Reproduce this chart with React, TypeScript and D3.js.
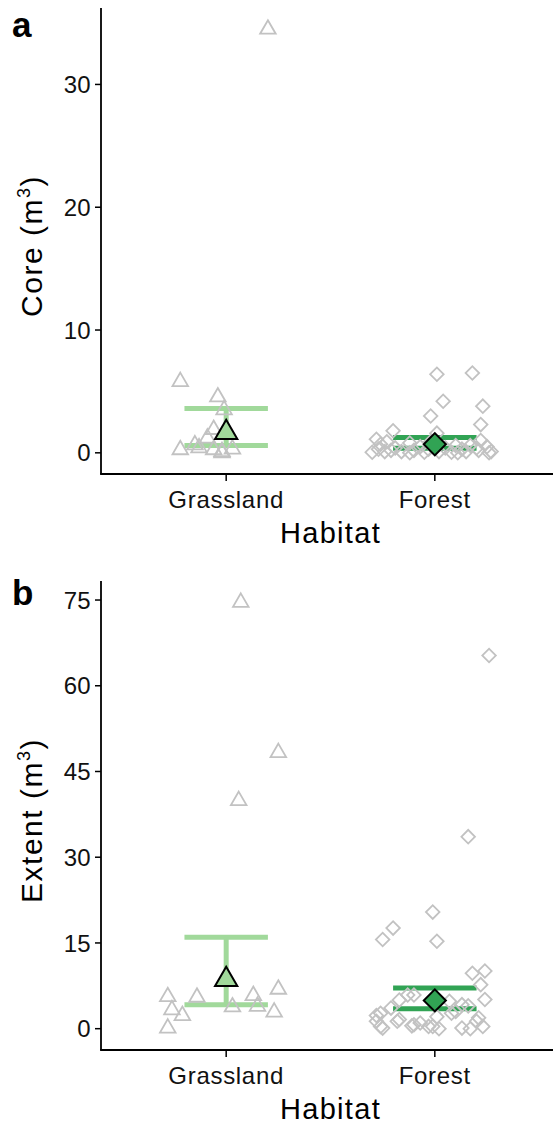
import React, { useEffect, useRef } from "react";
import * as d3 from "d3";

const habitats = ["Grassland", "Forest"];

// panel a: core volume (m3)
const coreGrassland = [34.5, 5.8, 4.55, 3.5, 1.9, 1.2, 0.65, 0.4, 0.25, 0.25, 0.1, 0.0, 0.3];
const coreGrasslandJitter = [0.2, -0.22, -0.04, -0.01, -0.06, -0.09, -0.15, -0.13, -0.22, -0.06, -0.02, -0.02, 0.03];
const coreForest = [
  6.5, 6.4, 4.2, 3.8, 3.0, 2.3, 1.8, 1.6, 1.1, 1.0, 0.9, 0.8, 0.7, 0.6, 0.6, 0.5, 0.5, 0.4, 0.4,
  0.3, 0.3, 0.3, 0.2, 0.2, 0.2, 0.1, 0.1, 0.1, 0.1, 0.1, 0.05, 0.05, 0.05, 0.0, 0.0, 0.0, 0.9, 0.4,
];
const coreForestJitter = [
  0.18, 0.01, 0.04, 0.23, -0.02, 0.22, -0.2, 0.01, -0.28, 0.22, -0.23, -0.12, -0.26, 0.1, 0.17, -0.07, 0.25, -0.19, 0.05,
  -0.27, -0.03, 0.13, -0.21, -0.1, 0.21, -0.24, -0.16, 0.02, 0.15, 0.27, -0.3, -0.05, 0.08, -0.12, 0.11, 0.26, -0.02, 0.2,
];
const coreMean = [1.64, 0.7];
const coreLower = [0.6, 0.38];
const coreUpper = [3.6, 1.24];

// panel b: extent volume (m3)
const extentGrassland = [74.6, 48.3, 39.9, 5.6, 3.3, 2.3, 0.1, 5.5, 3.8, 5.8, 3.9, 6.9, 2.9];
const extentGrasslandJitter = [0.07, 0.25, 0.06, -0.28, -0.26, -0.21, -0.28, -0.14, 0.03, 0.13, 0.15, 0.25, 0.23];
const extentForest = [
  65.3, 33.6, 20.4, 17.6, 15.6, 15.3, 10.1, 9.7, 7.7, 5.9, 5.1, 5.0, 5.9, 4.8, 4.2, 4.0, 3.6, 2.7, 2.3,
  2.1, 1.9, 1.6, 0.7, 1.0, 0.4, 0.4, 0.1, 0.0, 0.4, 0.0, 2.7, 1.3, 0.1, 1.3, 3.0, 1.3, 0.5, 0.4,
];
const extentForestJitter = [
  0.26, 0.16, -0.01, -0.2, -0.25, 0.01, 0.24, 0.18, 0.22, -0.13, 0.24, -0.17, -0.1, 0.07, 0.13, 0.16, -0.21, 0.08, -0.28,
  0.01, 0.21, -0.17, -0.1, -0.07, -0.01, -0.26, 0.13, 0.17, 0.23, 0.02, -0.26, -0.28, -0.25, -0.18, 0.1, 0.2, -0.11, -0.03,
];
const extentMean = [8.6, 4.95];
const extentLower = [4.2, 3.5];
const extentUpper = [16.0, 7.1];

const coreTicks = [0, 10, 20, 30];
const extentTicks = [0, 15, 30, 45, 60, 75];

const panels = [
  {
    letter: "a", title: "Core", top: 8, bottom: 474, ticks: coreTicks,
    values: [coreGrassland, coreForest], jitter: [coreGrasslandJitter, coreForestJitter],
    mean: coreMean, lower: coreLower, upper: coreUpper,
  },
  {
    letter: "b", title: "Extent", top: 581, bottom: 1050, ticks: extentTicks,
    values: [extentGrassland, extentForest], jitter: [extentGrasslandJitter, extentForestJitter],
    mean: extentMean, lower: extentLower, upper: extentUpper,
  },
];

const lightGreen = "#a1d99b";
const darkGreen = "#31a354";
const pointGrey = "#c2c2c2";
const font = "'Liberation Sans', Arial, sans-serif";

export default function App() {
  const ref = useRef<SVGSVGElement>(null);

  useEffect(() => {
    const svg = d3.select(ref.current);
    svg.selectAll("*").remove();

    const left = 101;
    const right = 560;

    // discrete x scale with ggplot's 0.6 expansion
    const x = d3.scaleLinear().domain([0.4, 2.6]).range([left, right]);
    const xPos = (i: number) => x(i + 1);
    const barHalf = 0.2;

    const openShape = [d3.symbolTriangle, d3.symbolSquare];
    const openSize = [105, 92];
    const meanSize = [215, 245];
    const meanFill = [lightGreen, darkGreen];
    const barColor = [lightGreen, darkGreen];

    panels.forEach((p) => {
      const all = p.values.flat();
      const lo = d3.min(all) as number;
      const hi = d3.max(all) as number;
      const pad = (hi - lo) * 0.05;
      const y = d3.scaleLinear().domain([lo - pad, hi + pad]).range([p.bottom, p.top]);

      const g = svg.append("g");

      // error bars
      habitats.forEach((_, i) => {
        const eb = g.append("g").attr("stroke", barColor[i]).attr("stroke-width", 5);
        eb.append("line")
          .attr("x1", x(i + 1 - barHalf)).attr("x2", x(i + 1 + barHalf))
          .attr("y1", y(p.upper[i])).attr("y2", y(p.upper[i]));
        eb.append("line")
          .attr("x1", x(i + 1 - barHalf)).attr("x2", x(i + 1 + barHalf))
          .attr("y1", y(p.lower[i])).attr("y2", y(p.lower[i]));
        eb.append("line")
          .attr("x1", xPos(i)).attr("x2", xPos(i))
          .attr("y1", y(p.upper[i])).attr("y2", y(p.lower[i]));
      });

      // raw points
      habitats.forEach((_, i) => {
        const sym = d3.symbol().type(openShape[i]).size(openSize[i]);
        g.append("g")
          .selectAll("path")
          .data(p.values[i])
          .join("path")
          .attr("d", sym as any)
          .attr("transform", (d, k) =>
            `translate(${x(i + 1 + p.jitter[i][k])},${y(d)})` + (i === 1 ? " rotate(45)" : ""))
          .attr("fill", "none")
          .attr("stroke", pointGrey)
          .attr("stroke-width", 1.8);
      });

      // means
      habitats.forEach((_, i) => {
        const sym = d3.symbol().type(openShape[i]).size(meanSize[i]);
        g.append("path")
          .attr("d", sym as any)
          .attr("transform", `translate(${xPos(i)},${y(p.mean[i])})` + (i === 1 ? " rotate(45)" : ""))
          .attr("fill", meanFill[i])
          .attr("stroke", "#000")
          .attr("stroke-width", 2)
          .attr("stroke-linejoin", "miter");
      });

      // y axis
      const ya = g.append("g").attr("transform", `translate(${left},0)`);
      ya.append("line").attr("x1", 0).attr("x2", 0).attr("y1", p.top).attr("y2", p.bottom)
        .attr("stroke", "#000").attr("stroke-width", 1.8);
      p.ticks.forEach((t) => {
        ya.append("line").attr("x1", -6).attr("x2", 0).attr("y1", y(t)).attr("y2", y(t))
          .attr("stroke", "#000").attr("stroke-width", 1.5);
        ya.append("text").attr("x", -10).attr("y", y(t)).attr("dy", "0.36em")
          .attr("text-anchor", "end").attr("font-family", font).attr("font-size", 24)
          .attr("letter-spacing", 0.3).attr("fill", "#111").text(t);
      });

      // x axis
      const xa = g.append("g");
      xa.append("line").attr("x1", left - 0.9).attr("x2", right).attr("y1", p.bottom).attr("y2", p.bottom)
        .attr("stroke", "#000").attr("stroke-width", 1.8);
      habitats.forEach((h, i) => {
        xa.append("line").attr("x1", xPos(i)).attr("x2", xPos(i)).attr("y1", p.bottom).attr("y2", p.bottom + 7)
          .attr("stroke", "#000").attr("stroke-width", 1.5);
        xa.append("text").attr("x", xPos(i)).attr("y", p.bottom + 34)
          .attr("text-anchor", "middle").attr("font-family", font).attr("font-size", 24)
          .attr("letter-spacing", 0.7).attr("fill", "#111").text(h);
      });

      // titles
      g.append("text").attr("x", (left + right) / 2).attr("y", p.bottom + 69)
        .attr("text-anchor", "middle").attr("font-family", font).attr("font-size", 29)
        .attr("letter-spacing", 1.3).attr("fill", "#000").text("Habitat");

      const yt = g.append("text")
        .attr("transform", `translate(42,${(p.top + p.bottom) / 2 + 5}) rotate(-90)`)
        .attr("text-anchor", "middle").attr("font-family", font).attr("font-size", 30)
        .attr("letter-spacing", 1.5).attr("fill", "#000");
      yt.append("tspan").text(`${p.title} (m`);
      yt.append("tspan").attr("font-size", 18).attr("dy", -12).text("3");
      yt.append("tspan").attr("dy", 12).text(")");

      g.append("text").attr("x", 12).attr("y", p.letter === "a" ? 37 : 605)
        .attr("font-family", font).attr("font-weight", "bold").attr("font-size", 35)
        .attr("fill", "#000").text(p.letter);
    });
  }, []);

  return (
    <svg
      ref={ref}
      width={553}
      height={1126}
      style={{ position: "absolute", left: 0, top: 0, background: "#fff" }}
    />
  );
}
